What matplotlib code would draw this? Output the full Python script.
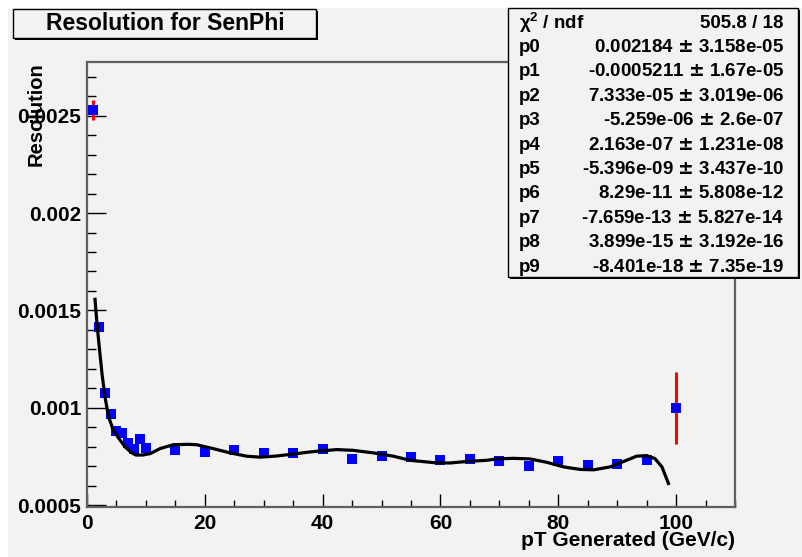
# Resolution vs generated pT, with 9th order polynomial fit (ROOT style)

import matplotlib.pyplot as plt
from matplotlib.patches import Rectangle
from matplotlib.ticker import MultipleLocator

plt.rcParams['font.family'] = ['Liberation Sans', 'DejaVu Sans']
plt.rcParams['font.weight'] = 'bold'
plt.rcParams['mathtext.fontset'] = 'dejavusans'

# Measured resolution points
pt = [1, 2, 3, 4, 5, 6, 7, 8, 9, 10, 15, 20, 25, 30, 35, 40, 45, 50,
      55, 60, 65, 70, 75, 80, 85, 90, 95, 100]
res = [0.002531, 0.001417, 0.001074, 0.000969, 0.000880, 0.000872,
       0.000821, 0.000786, 0.000841, 0.000793, 0.000785, 0.000773,
       0.000781, 0.000768, 0.000768, 0.000790, 0.000735, 0.000754,
       0.000749, 0.000734, 0.000739, 0.000725, 0.000701, 0.000724,
       0.000705, 0.000711, 0.000732, 0.000999]
res_err = [0.000051, 0.000015, 0.000012, 0.000010, 0.000010, 0.000010,
           0.000012, 0.000030, 0.000012, 0.000010, 0.000008, 0.000008,
           0.000008, 0.000008, 0.000008, 0.000008, 0.000008, 0.000008,
           0.000008, 0.000008, 0.000008, 0.000008, 0.000008, 0.000008,
           0.000008, 0.000008, 0.000010, 0.000184]

# Fitted curve, sampled along the fit range
fit_x = [1.36, 1.70, 2.09, 2.55, 3.06, 3.68, 4.47, 5.5, 6.5, 7.47, 8.32,
         9.45, 10.7, 12.4, 14.65, 17.2, 18.6, 21.4, 24.3, 27.1, 29.4, 32.2,
         35.0, 37.9, 39.0, 42.4, 45.2, 48.6, 52.0, 54.8, 58.8, 61.6, 64.5,
         67.9, 69.6, 72.4, 75.2, 78.0, 80.9, 83.7, 86.0, 88.8, 91.1, 93.3,
         95.0, 96.4, 97.6, 98.7]
fit_y = [0.001557, 0.001429, 0.001310, 0.001174, 0.001054, 0.000952,
         0.000884, 0.000838, 0.000798, 0.000771, 0.000757, 0.000757,
         0.000764, 0.000790, 0.000810, 0.000812, 0.000810, 0.000790,
         0.000768, 0.000751, 0.000746, 0.000752, 0.000762, 0.000773,
         0.000776, 0.000785, 0.000781, 0.000768, 0.000751, 0.000730,
         0.000718, 0.000716, 0.000724, 0.000730, 0.000737, 0.000740,
         0.000737, 0.000720, 0.000696, 0.000683, 0.000681, 0.000696,
         0.000724, 0.000751, 0.000754, 0.000739, 0.000696, 0.000611]

# Fit statistics
chi2, ndf = 505.8, 18
par_names = ['p0', 'p1', 'p2', 'p3', 'p4', 'p5', 'p6', 'p7', 'p8', 'p9']
par_vals = [0.002184, -0.0005211, 7.333e-05, -5.259e-06, 2.163e-07,
            -5.396e-09, 8.29e-11, -7.659e-13, 3.899e-15, -8.401e-18]
par_errs = [3.158e-05, 1.67e-05, 3.019e-06, 2.6e-07, 1.231e-08,
            3.437e-10, 5.808e-12, 5.827e-14, 3.192e-16, 7.35e-19]

W, H = 802, 557
bg = '#f2f2f2'
fig = plt.figure(figsize=(W / 100, H / 100), dpi=100)
fig.patch.set_facecolor('white')
# grey canvas (white strip on the top and left edges)
fig.patches.append(Rectangle((8 / W, 0), 1 - 8 / W, 1 - 8 / H,
                             transform=fig.transFigure, facecolor=bg,
                             edgecolor='none', zorder=-10))

ax = fig.add_axes([87 / W, 50 / H, 648 / W, 445 / H])
ax.set_facecolor(bg)

ax.errorbar(pt, res, yerr=res_err, fmt='none', ecolor='red',
            elinewidth=2.2, capsize=0, zorder=2)
ax.plot(pt, res, 's', color='blue', markersize=6.5, markeredgewidth=0,
        zorder=3)
ax.plot(fit_x, fit_y, '-', color='black', linewidth=2.3, zorder=4)

ax.set_xlim(0, 110)
ax.set_ylim(0.00049, 0.002776)
ax.set_xticks([0, 20, 40, 60, 80, 100])
ax.set_yticks([0.0005, 0.001, 0.0015, 0.002, 0.0025])
ax.set_yticklabels(['0.0005', '0.001', '0.0015', '0.002', '0.0025'])
ax.xaxis.set_minor_locator(MultipleLocator(5))
ax.yaxis.set_minor_locator(MultipleLocator(0.0001))
ax.tick_params(axis='both', which='both', direction='in', colors='black',
               labelsize=15, width=1)
ax.tick_params(axis='y', which='major', length=13.7, pad=4)
ax.tick_params(axis='y', which='minor', length=6.8)
ax.tick_params(axis='x', which='major', length=9.4, pad=5)
ax.tick_params(axis='x', which='minor', length=4.7)
for lab in ax.get_xticklabels() + ax.get_yticklabels():
    lab.set_fontweight('bold')
for s in ax.spines.values():
    s.set_color('#606060')
    s.set_linewidth(1.6)

ax.text(735 / W, 1 - 541 / H, 'pT Generated (GeV/c)', transform=fig.transFigure,
        ha='right', va='center', fontsize=15, fontweight='bold')
ax.text(36 / W, 1 - 62 / H, 'Resolution', transform=fig.transFigure,
        rotation=90, ha='center', va='top', fontsize=14.5, fontweight='bold')

# Title box with drop shadow
fig.patches.append(Rectangle((15 / W, 1 - 40 / H), 303 / W, 29 / H,
                             transform=fig.transFigure, facecolor='black',
                             edgecolor='none', zorder=5))
fig.patches.append(Rectangle((13 / W, 1 - 38 / H), 303 / W, 29 / H,
                             transform=fig.transFigure, facecolor=bg,
                             edgecolor='black', linewidth=1, zorder=6))
fig.text(165 / W, 1 - 23.5 / H, 'Resolution for SenPhi', ha='center',
         va='center', fontsize=16.5, fontweight='bold', zorder=7)

# Fit statistics box
fig.patches.append(Rectangle((510 / W, 1 - 279 / H), 290 / W, 269 / H,
                             transform=fig.transFigure, facecolor='black',
                             edgecolor='none', zorder=5))
fig.patches.append(Rectangle((508 / W, 1 - 277 / H), 290 / W, 269 / H,
                             transform=fig.transFigure, facecolor=bg,
                             edgecolor='black', linewidth=1, zorder=6))
row_y = 23
row_h = 24.4
fig.text(519 / W, 1 - row_y / H, r'$\mathregular{\chi^{2}}$ / ndf',
         ha='left', va='center', fontsize=13.5, fontweight='bold', zorder=7)
fig.text(784 / W, 1 - row_y / H, '%g / %d' % (chi2, ndf), ha='right',
         va='center', fontsize=13.5, fontweight='bold', zorder=7)
for i, name in enumerate(par_names):
    y = 1 - (row_y + (i + 1) * row_h) / H
    fig.text(519 / W, y, name, ha='left', va='center', fontsize=13.5,
             fontweight='bold', zorder=7)
    fig.text(784 / W, y, '%.4g $\\pm$ %.4g' % (par_vals[i], par_errs[i]),
             ha='right', va='center', fontsize=13.5, fontweight='bold',
             zorder=7)

plt.savefig('out.png', dpi=100, facecolor=fig.get_facecolor())
